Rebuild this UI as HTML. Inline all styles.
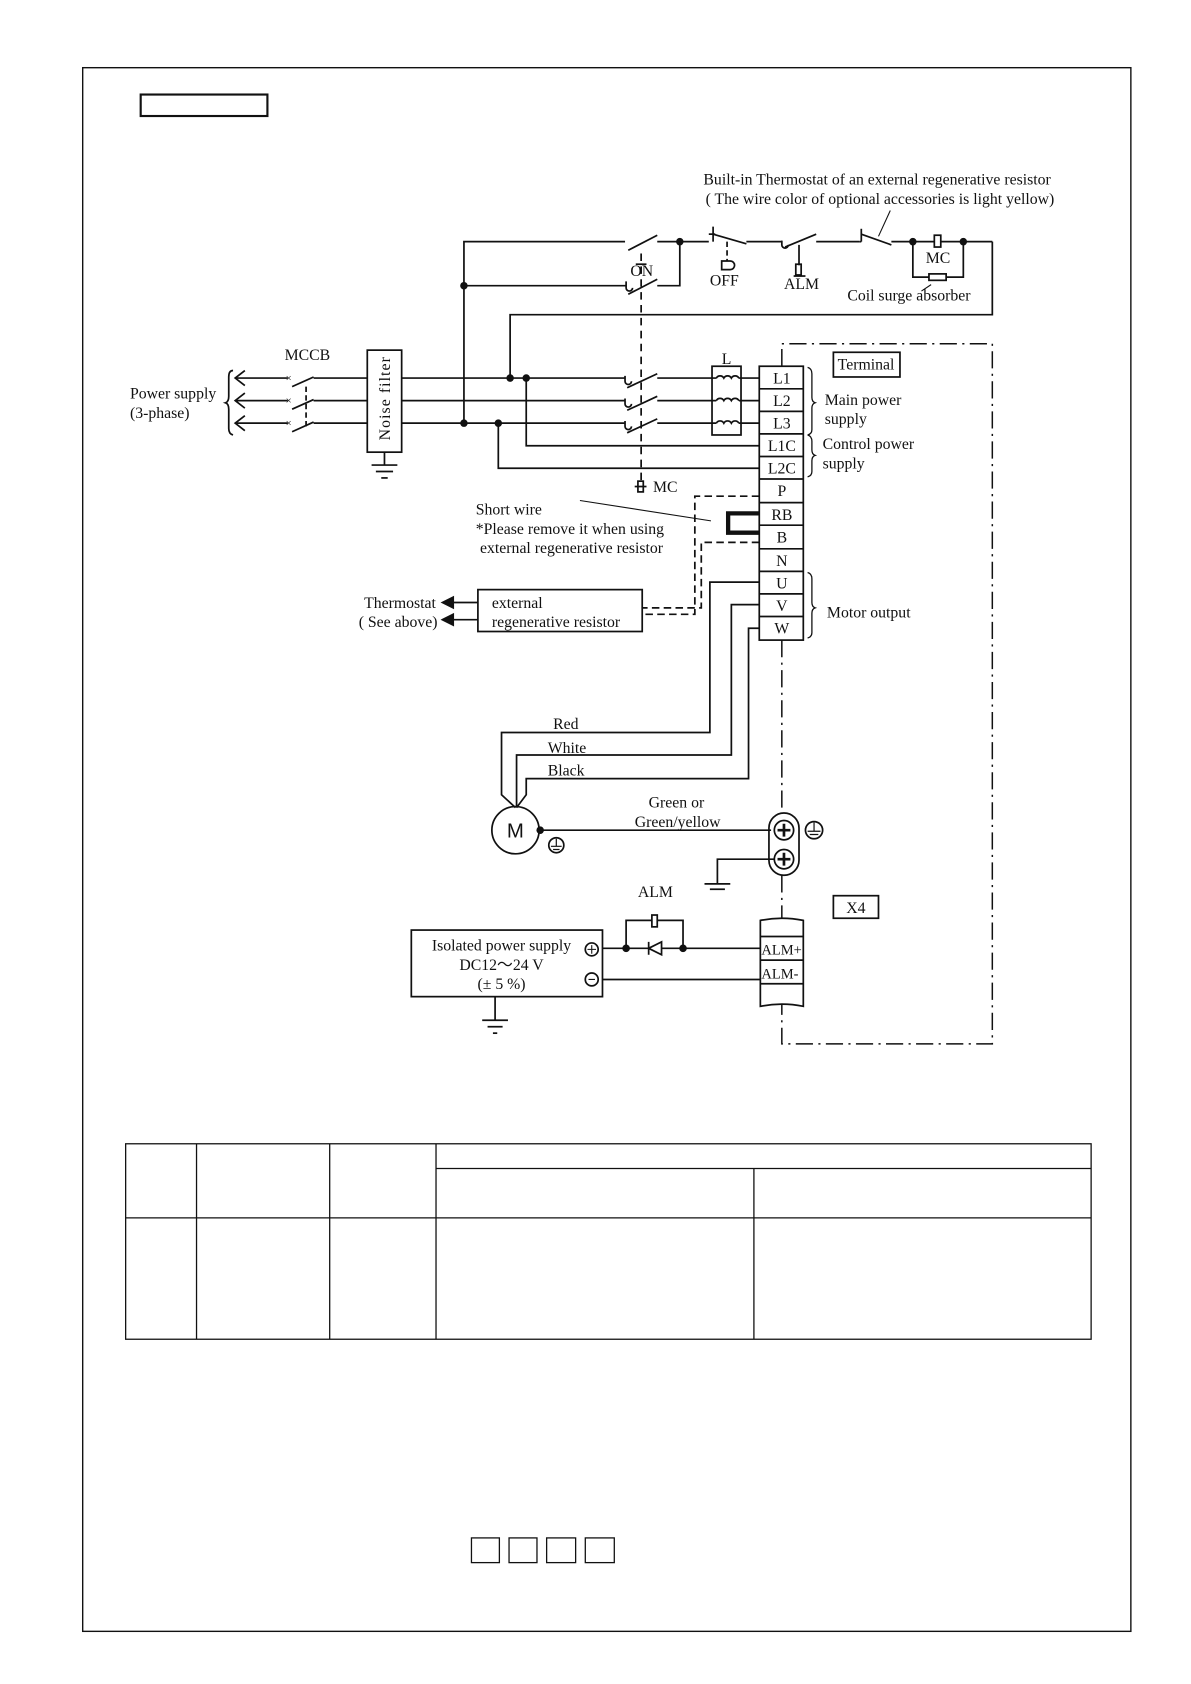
<!DOCTYPE html>
<html><head><meta charset="utf-8"><style>
html,body{margin:0;padding:0;background:#fff}
svg{display:block}
text{font-family:"Liberation Serif",serif;font-size:14.7px;fill:#111}
</style></head><body>
<svg width="1191" height="1684" viewBox="0 0 1109 1568" xmlns="http://www.w3.org/2000/svg">
<g fill="none" stroke="#111" stroke-width="1.6">
<rect x="77" y="63" width="976" height="1456" stroke-width="1.3"/>
<rect x="131" y="88" width="118" height="20" stroke-width="2"/>
<polyline points="582,225 432,225 432,394"/>
<line x1="432" y1="266" x2="583" y2="266"/>
<line x1="585" y1="233" x2="612" y2="219"/><line x1="612" y1="225" x2="660" y2="225"/>
<line x1="585" y1="274" x2="612" y2="260"/><polyline points="612,266 633,266 633,225"/>
<path d="M583,262 v6 a3,3 0 0 0 6,0"/>
<line x1="592" y1="246" x2="602" y2="246"/>
<line x1="597" y1="236" x2="597" y2="449" stroke-dasharray="7,5"/>
<rect x="594" y="448" width="5" height="10"/><line x1="591" y1="453" x2="602" y2="453"/>
<line x1="664" y1="211" x2="664" y2="225"/><line x1="660" y1="218" x2="666" y2="218"/>
<line x1="664" y1="218" x2="695" y2="227"/>
<line x1="677" y1="225" x2="677" y2="243" stroke-dasharray="5,3"/>
<path d="M672,243 h8 a4,4 0 0 1 0,8 h-8 z"/>
<line x1="695" y1="225" x2="728" y2="225"/>
<path d="M728,224 v4 a3,3 0 0 0 6,0"/>
<line x1="731" y1="230" x2="760" y2="218"/><line x1="760" y1="225" x2="800" y2="225"/>
<line x1="744" y1="228" x2="744" y2="247"/><rect x="741" y="246" width="5" height="10"/><line x1="739" y1="257" x2="750" y2="257"/>
<line x1="802" y1="213" x2="802" y2="225"/><line x1="800" y1="225" x2="802" y2="225"/>
<line x1="802" y1="218" x2="830" y2="228"/><line x1="829" y1="196" x2="818" y2="220" stroke-width="1"/>
<line x1="830" y1="225" x2="924" y2="225"/>
<rect x="870" y="219" width="6" height="11" fill="#fff"/>
<polyline points="850,225 850,258 897,258 897,225"/>
<rect x="865" y="255" width="16" height="6" fill="#fff"/>
<line x1="867" y1="265" x2="858" y2="271" stroke-width="1"/>
<polyline points="924,225 924,293 475,293 475,352"/>
<g>
<line x1="220" y1="352" x2="268" y2="352"/><line x1="220" y1="373" x2="268" y2="373"/><line x1="220" y1="394" x2="268" y2="394"/>
<polyline points="228,345 219,352 228,359"/><polyline points="228,366 219,373 228,380"/><polyline points="228,387 219,394 228,401"/>
<line x1="272" y1="360" x2="292" y2="351"/><line x1="272" y1="381" x2="292" y2="372"/><line x1="272" y1="402" x2="292" y2="393"/>
<line x1="292" y1="352" x2="342" y2="352"/><line x1="292" y1="373" x2="342" y2="373"/><line x1="292" y1="394" x2="342" y2="394"/>
<line x1="285" y1="360" x2="285" y2="400" stroke-dasharray="5,3"/>
<rect x="342" y="326" width="32" height="95"/>
<polyline points="358,421 358,433"/><line x1="346" y1="433" x2="370" y2="433"/><line x1="350" y1="439" x2="366" y2="439"/><line x1="355" y1="445" x2="361" y2="445"/>
<line x1="374" y1="352" x2="582" y2="352"/><line x1="374" y1="373" x2="582" y2="373"/><line x1="374" y1="394" x2="582" y2="394"/>
<path d="M582,350 v5 a3,3 0 0 0 6,0"/><path d="M582,371 v5 a3,3 0 0 0 6,0"/><path d="M582,392 v5 a3,3 0 0 0 6,0"/>
<line x1="584" y1="361" x2="612" y2="348"/><line x1="584" y1="382" x2="612" y2="369"/><line x1="584" y1="403" x2="612" y2="390"/>
<line x1="612" y1="352" x2="707" y2="352"/><line x1="612" y1="373" x2="707" y2="373"/><line x1="612" y1="394" x2="707" y2="394"/>
<rect x="663" y="341" width="27" height="64" fill="#fff"/>
<path d="M667,352 a4,4 0 0 1 7,0 a4,4 0 0 1 7,0 a4,4 0 0 1 7,0 M663,352 h4 M688,352 h2"/>
<path d="M667,373 a4,4 0 0 1 7,0 a4,4 0 0 1 7,0 a4,4 0 0 1 7,0 M663,373 h4 M688,373 h2"/>
<path d="M667,394 a4,4 0 0 1 7,0 a4,4 0 0 1 7,0 a4,4 0 0 1 7,0 M663,394 h4 M688,394 h2"/>
<polyline points="490,352 490,415 707,415"/><polyline points="464,394 464,436 707,436"/>
<path d="M217,345 q-4,0 -4,6 v18 q0,5 -3,6 q3,1 3,6 v18 q0,5 4,6"/>
</g>
<rect x="707" y="341" width="41" height="255"/>
<line x1="707" y1="362" x2="748" y2="362"/><line x1="707" y1="383" x2="748" y2="383"/><line x1="707" y1="404" x2="748" y2="404"/><line x1="707" y1="425" x2="748" y2="425"/><line x1="707" y1="446" x2="748" y2="446"/><line x1="707" y1="468" x2="748" y2="468"/><line x1="707" y1="489" x2="748" y2="489"/><line x1="707" y1="511" x2="748" y2="511"/><line x1="707" y1="532" x2="748" y2="532"/><line x1="707" y1="553" x2="748" y2="553"/><line x1="707" y1="574" x2="748" y2="574"/>
<rect x="776" y="328" width="62" height="23"/>
<path d="M752,342 q4,1 4,6 v22 q0,4 3,5 q-3,1 -3,5 v20 q0,4 -4,5" stroke-width="1.2"/>
<path d="M752,405 q4,1 4,6 v8 q0,4 3,5 q-3,1 -3,5 v10 q0,4 -4,5" stroke-width="1.2"/>
<path d="M752,533 q4,1 4,6 v22 q0,4 3,5 q-3,1 -3,5 v18 q0,4 -4,5" stroke-width="1.2"/>
<g stroke-dasharray="16,5,2,5" stroke-width="1.4">
<polyline points="728,341 728,320 924,320 924,972 728,972 728,935"/>
<line x1="728" y1="596" x2="728" y2="757"/><line x1="728" y1="815" x2="728" y2="855"/>
</g>
<path d="M707,478 h-29 v18 h29" stroke-width="4"/>
<g stroke-dasharray="7,4">
<polyline points="707,462 647,462 647,572 598,572"/>
<polyline points="707,505 653,505 653,566 598,566"/>
</g>
<line x1="540" y1="466" x2="662" y2="485" stroke-width="1"/>
<rect x="445" y="549" width="153" height="39"/>
<line x1="445" y1="561" x2="420" y2="561"/><line x1="445" y1="577" x2="420" y2="577"/>
<path d="M412,561 l10,-5 v10 z M412,577 l10,-5 v10 z" fill="#111"/>
<polyline points="707,542 661,542 661,682 467,682 467,740 480,752"/>
<polyline points="707,563 681,563 681,703 481,703 481,752"/>
<polyline points="707,585 697,585 697,725 490,725 490,740 481,752"/>
<circle cx="480" cy="773" r="22"/>
<line x1="503" y1="773" x2="718" y2="773"/>
<circle cx="518" cy="787" r="7"/><path d="M518,781 v7 M513,788 h10 M515,791 h6" stroke-width="1.1"/>
<rect x="716" y="757" width="28" height="58" rx="14"/>
<circle cx="730" cy="773" r="9"/><circle cx="730" cy="800" r="9"/>
<path d="M730,767 v12 M724,773 h12 M730,794 v12 M724,800 h12" stroke-width="2.5"/>
<circle cx="758" cy="773" r="8"/><path d="M758,766 v8 M752,774 h12 M754,777 h8" stroke-width="1.1"/>
<polyline points="721,800 668,800 668,823"/><line x1="656" y1="823" x2="680" y2="823"/><line x1="661" y1="828" x2="675" y2="828"/>
<rect x="776" y="834" width="42" height="21"/>
<polyline points="583,883 583,857 636,857 636,883"/>
<rect x="607" y="852" width="5" height="11" fill="#fff"/>
<line x1="561" y1="883" x2="708" y2="883"/><line x1="561" y1="912" x2="708" y2="912"/>
<path d="M604,883 l12,-6 v12 z" fill="#fff"/><line x1="604" y1="877" x2="604" y2="889"/>
<path d="M708,857 q20,-4 40,0 v80 q-20,-4 -40,0 z"/>
<line x1="708" y1="872" x2="748" y2="872"/><line x1="708" y1="894" x2="748" y2="894"/><line x1="708" y1="916" x2="748" y2="916"/>
<rect x="383" y="866" width="178" height="62"/>
<circle cx="551" cy="884" r="6"/><circle cx="551" cy="912" r="6"/>
<path d="M547,884 h8 M551,880 v8 M548,912 h6" stroke-width="1"/>
<line x1="461" y1="928" x2="461" y2="950"/><line x1="449" y1="950" x2="473" y2="950"/><line x1="454" y1="956" x2="468" y2="956"/><line x1="459" y1="962" x2="463" y2="962"/>
<rect x="117" y="1065" width="899" height="182" stroke-width="1.2"/>
<g stroke-width="1.2">
<line x1="183" y1="1065" x2="183" y2="1247"/><line x1="307" y1="1065" x2="307" y2="1247"/><line x1="406" y1="1065" x2="406" y2="1247"/>
<line x1="702" y1="1088" x2="702" y2="1247"/><line x1="406" y1="1088" x2="1016" y2="1088"/><line x1="117" y1="1134" x2="1016" y2="1134"/>
</g>
<rect x="439" y="1432" width="26" height="23" stroke-width="1.2"/><rect x="474" y="1432" width="26" height="23" stroke-width="1.2"/><rect x="509" y="1432" width="27" height="23" stroke-width="1.2"/><rect x="545" y="1432" width="27" height="23" stroke-width="1.2"/>
</g>
<g fill="#111">
<circle cx="633" cy="225" r="3.5"/><circle cx="432" cy="266" r="3.5"/><circle cx="850" cy="225" r="3.5"/><circle cx="897" cy="225" r="3.5"/>
<circle cx="475" cy="352" r="3.5"/><circle cx="490" cy="352" r="3.5"/><circle cx="432" cy="394" r="3.5"/><circle cx="464" cy="394" r="3.5"/>
<circle cx="503" cy="773" r="3.5"/><circle cx="583" cy="883" r="3.5"/><circle cx="636" cy="883" r="3.5"/>
<text x="266" y="355" style="font-size:10px">×</text><text x="266" y="376" style="font-size:10px">×</text><text x="266" y="397" style="font-size:10px">×</text>
</g>
<text x="655" y="172">Built-in Thermostat of an  external regenerative resistor</text>
<text x="657" y="190">( The  wire color of optional accessories is light yellow)</text>
<text x="587" y="257">ON</text>
<text x="661" y="266">OFF</text>
<text x="730" y="269">ALM</text>
<text x="862" y="245">MC</text>
<text x="789" y="280">Coil surge absorber</text>
<text x="265" y="335">MCCB</text>
<text x="121" y="371">Power supply</text>
<text x="121" y="389">(3-phase)</text>
<text transform="translate(363,410) rotate(-90)" style="letter-spacing:1px">Noise filter</text>
<text x="672" y="339">L</text>
<text x="780" y="344">Terminal</text>
<g text-anchor="middle">
<text x="728" y="357">L1</text><text x="728" y="378">L2</text><text x="728" y="399">L3</text><text x="728" y="420">L1C</text><text x="728" y="441">L2C</text><text x="728" y="462">P</text><text x="728" y="484">RB</text><text x="728" y="505">B</text><text x="728" y="527">N</text><text x="728" y="548">U</text><text x="728" y="569">V</text><text x="728" y="590">W</text>
<text x="797" y="850">X4</text>
<text x="467" y="885">Isolated power supply</text>
<text x="467" y="903">DC12～24 V</text>
<text x="467" y="921">(± 5 %)</text>
</g>
<text x="768" y="377">Main power</text><text x="768" y="395">supply</text>
<text x="766" y="418">Control power</text><text x="766" y="436">supply</text>
<text x="608" y="458">MC</text>
<text x="443" y="479">Short wire</text>
<text x="443" y="497">*Please remove it when using</text>
<text x="447" y="515">external regenerative resistor</text>
<text x="458" y="566">external</text>
<text x="458" y="584">regenerative resistor</text>
<text x="339" y="566">Thermostat</text>
<text x="334" y="584">( See above)</text>
<text x="770" y="575">Motor output</text>
<text x="515" y="679">Red</text><text x="510" y="701">White</text><text x="510" y="722">Black</text>
<text x="472" y="780" style="font-family:'Liberation Sans',sans-serif;font-size:19px">M</text>
<text x="604" y="752">Green or</text><text x="591" y="770">Green/yellow</text>
<text x="594" y="835">ALM</text>
<text x="709" y="889" style="font-size:13.5px">ALM+</text><text x="709" y="911" style="font-size:13.5px">ALM-</text>
</svg>
</body></html>
